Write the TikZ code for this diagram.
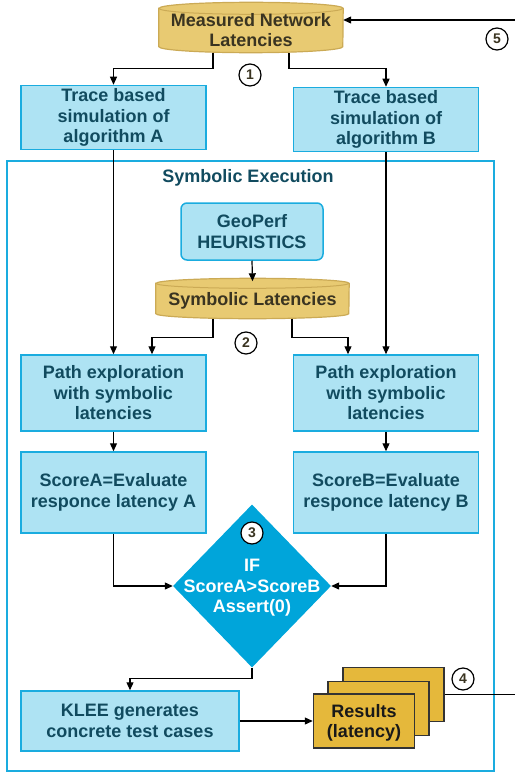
\documentclass[tikz,border=0pt]{standalone}
\usepackage{fontspec}
\setmainfont{Liberation Sans}
\usetikzlibrary{arrows.meta,shapes.geometric,backgrounds}
\definecolor{boxfill}{HTML}{AEE3F3}
\definecolor{boxline}{HTML}{1AACDF}
\definecolor{boxtext}{HTML}{114B5F}
\definecolor{cylfill}{HTML}{E8CA72}
\definecolor{cylline}{HTML}{CBAA55}
\definecolor{cyltext}{HTML}{3A3421}
\definecolor{diafill}{HTML}{00A5DA}
\definecolor{resfill}{HTML}{E5B83B}
\begin{document}
\begin{tikzpicture}[x=1pt,y=1pt,
  every node/.style={font=\fontsize{18}{20.5}\selectfont\bfseries, align=center},
  bluebox/.style={draw=boxline, line width=1.5pt, fill=boxfill, text=boxtext, inner sep=0pt},
  cylnode/.style={text=cyltext, inner sep=0pt},
  cylbody/.style={draw=cylline, fill=cylfill, line width=1.2pt},
  numc/.style={circle, draw=black, line width=1.2pt, fill=white, minimum size=22pt, inner sep=0pt,
    font=\fontsize{14}{14}\selectfont\bfseries, text=cyltext},
  resbox/.style={draw=black!80, line width=1.5pt, fill=resfill, inner sep=0pt, text=black!90,
    minimum width=101pt, minimum height=54pt},
  conn/.style={draw=black, line width=1.2pt, -{Triangle[width=7pt,length=8pt]}},
  plain/.style={draw=black, line width=1.2pt}
]
\useasboundingbox (0,0) rectangle (514,-773);

% outer frame
\node[draw=boxline, line width=1.5pt, minimum width=487pt, minimum height=610pt, inner sep=0pt] (se) at (250.5,-466) {};
\node[text=boxtext] (setitle) at (248,-178) {Symbolic Execution};

% measured network latencies
\node[cylnode, minimum width=184pt, minimum height=50pt] (mnl) at (251,-27.5) {};
\node[text=cyltext] (mnltext) at (251,-30) {Measured Network\\Latencies};
\begin{pgfonlayer}{background}
\path[cylbody] ([yshift=-6pt]mnl.north west) -- ([yshift=6pt]mnl.south west)
  arc[start angle=180,end angle=360,x radius=92pt,y radius=6pt]
  -- ([yshift=-6pt]mnl.north east)
  arc[start angle=0,end angle=180,x radius=92pt,y radius=6pt] -- cycle;
\draw[cylline, line width=1pt] ([yshift=-6pt]mnl.north west) arc[start angle=180,end angle=360,x radius=92pt,y radius=6pt];
\end{pgfonlayer}

% trace boxes
\node[bluebox, minimum width=185pt, minimum height=64pt] (ta) at (113.5,-117.5) {Trace based\\simulation of\\algorithm A};
\node[bluebox, minimum width=185pt, minimum height=64pt] (tb) at (386,-119.5) {Trace based\\simulation of\\algorithm B};

% geoperf
\node[bluebox, rounded corners=6pt, minimum width=142pt, minimum height=57pt] (geo) at (252,-231.5) {GeoPerf\\HEURISTICS};

% symbolic latencies
\node[cylnode, minimum width=193pt, minimum height=40pt] (sl) at (252.5,-298.5) {};
\node[text=cyltext] (sltext) at (252.5,-300.5) {Symbolic Latencies};
\begin{pgfonlayer}{background}
\path[cylbody] ([yshift=-5pt]sl.north west) -- ([yshift=5pt]sl.south west)
  arc[start angle=180,end angle=360,x radius=96.5pt,y radius=5pt]
  -- ([yshift=-5pt]sl.north east)
  arc[start angle=0,end angle=180,x radius=96.5pt,y radius=5pt] -- cycle;
\draw[cylline, line width=1pt] ([yshift=-5pt]sl.north west) arc[start angle=180,end angle=360,x radius=96.5pt,y radius=5pt];
\end{pgfonlayer}

% path exploration
\node[bluebox, minimum width=185pt, minimum height=76pt] (pa) at (113.5,-393) {Path exploration\\with symbolic\\latencies};
\node[bluebox, minimum width=185pt, minimum height=76pt] (pb) at (386,-393) {Path exploration\\with symbolic\\latencies};

% scores
\node[bluebox, minimum width=185pt, minimum height=81pt] (sa) at (113.5,-492.5) {ScoreA=Evaluate\\responce latency A};
\node[bluebox, minimum width=185pt, minimum height=81pt] (sb) at (386,-492.5) {ScoreB=Evaluate\\responce latency B};

% diamond
\node[diamond, fill=diafill, minimum width=158pt, minimum height=163pt, inner sep=0pt] (dia) at (252,-586) {};
\node[text=white] (diatext) at (252,-588) {IF\\ScoreA>ScoreB\\Assert(0)};

% klee
\node[bluebox, minimum width=218pt, minimum height=60pt] (klee) at (130,-721) {KLEE generates\\concrete test cases};

% results stack
\node[resbox] (r3) at (393.5,-694.5) {};
\node[resbox] (r2) at (378.5,-708.5) {};
\node[resbox] (r1) at (364,-721) {};
\node[text=black!90] (r1text) at (364,-723) {Results\\(latency)};

% circled numbers
\node[numc] (n1) at (250,-75) {1};
\node[numc] (n2) at (246,-343) {2};
\node[numc] (n3) at (252,-533) {3};
\node[numc] (n4) at (463,-679) {4};
\node[numc] (n5) at (497,-39) {5};

% connectors
\coordinate (edge) at (518,0);
\draw[conn] ([xshift=-38pt]mnl.south) -- ++(0,-16) -| (ta.north);
\draw[conn] ([xshift=38pt]mnl.south) -- ++(0,-16) -| (tb.north);
\draw[conn] (ta.south) -- (pa.north);
\draw[conn] (tb.south) -- (pb.north);
\draw[conn] (geo.south) -- ([yshift=-3pt]sl.north);
\draw[conn] ([xshift=-39.5pt]sl.south) -- ++(0,-19) -| ([xshift=38.5pt]pa.north);
\draw[conn] ([xshift=39.5pt]sl.south) -- ++(0,-19) -| ([xshift=-38pt]pb.north);
\draw[conn] (pa.south) -- (sa.north);
\draw[conn] (pb.south) -- (sb.north);
\draw[conn] (sa.south) |- (dia.west);
\draw[conn] (sb.south) |- (dia.east);
\draw[conn] (dia.south) -- ++(0,-11) -| (klee.north);
\draw[conn] (klee.east) -- (r1.west);
\draw[conn] (r3.east) -- (r3.east -| edge) |- ([yshift=7.5pt]mnl.east);
\end{tikzpicture}
\end{document}
